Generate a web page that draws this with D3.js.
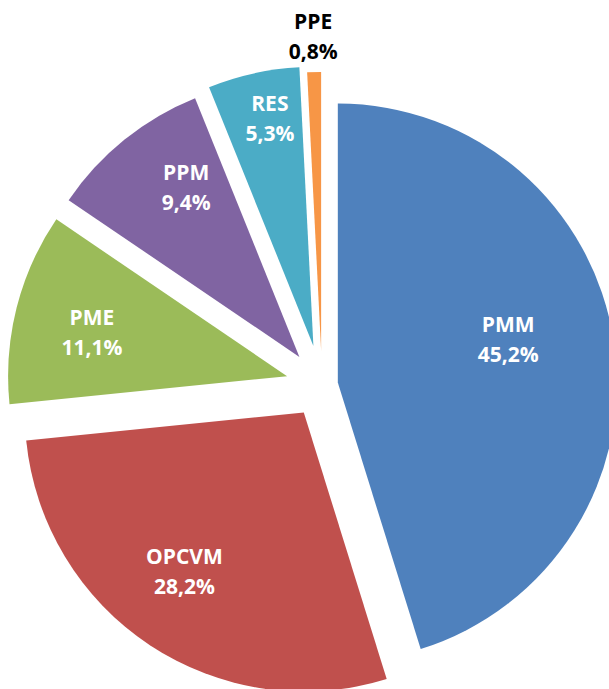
<!DOCTYPE html>
<html>
<head>
<meta charset="utf-8">
<script src="https://cdn.jsdelivr.net/npm/d3@7"></script>
<style>
  html, body { margin: 0; padding: 0; background: #fff; overflow: hidden; }
  svg { display: block; }
</style>
</head>
<body>
<svg id="chart" width="609" height="689"></svg>
<script>
// ---- data ----
const categories = ["PMM", "OPCVM", "PME", "PPM", "RES", "PPE"];
const values = [45.2, 28.2, 11.1, 9.4, 5.3, 0.8];
const colors = ["#4F81BD", "#C0504D", "#9BBB59", "#8064A2", "#4BACC6", "#F79646"];
const labelColors = ["#ffffff", "#ffffff", "#ffffff", "#ffffff", "#ffffff", "#000000"];

// ---- layout / style ----
const width = 609, height = 689;
const cx = 322, cy = 385, R = 279;
const explode = [16, 33, 36, 36, 40, 34];               // per-slice explosion (px)
const labelAngleShift = [-6.4, 3.9, -0.9, 5.5, 1.7, 0];  // degrees from mid-angle
const labelRadiusFrac = [0.632, 0.705, 0.719, 0.738, 0.839, 1.137];
const fontSize = 21, lineGap = 30;

const svg = d3.select("#chart");
const pie = d3.pie().sort(null).value(d => d).startAngle(0).endAngle(2 * Math.PI);
const arcs = pie(values);
const arc = d3.arc().innerRadius(0).outerRadius(R);
const fmt = v => d3.format(".1f")(v).replace(".", ",") + "%";

const g = svg.append("g").attr("transform", `translate(${cx},${cy})`);

const slices = g.selectAll("g.slice").data(arcs).join("g")
  .attr("class", "slice")
  .attr("transform", (d, i) => {
    const mid = (d.startAngle + d.endAngle) / 2;
    return `translate(${explode[i] * Math.sin(mid)},${-explode[i] * Math.cos(mid)})`;
  });

slices.append("path")
  .attr("d", arc)
  .attr("fill", (d, i) => colors[i]);

slices.each(function(d, i) {
  const mid = (d.startAngle + d.endAngle) / 2 + labelAngleShift[i] * Math.PI / 180;
  const r = labelRadiusFrac[i] * R;
  const x = r * Math.sin(mid), y = -r * Math.cos(mid);
  const sel = d3.select(this);
  [categories[i], fmt(values[i])].forEach((txt, k) => {
    sel.append("text")
      .attr("x", x)
      .attr("y", y - 5 + k * lineGap)
      .attr("text-anchor", "middle")
      .attr("font-family", "'Open Sans', 'DejaVu Sans', sans-serif")
      .attr("font-weight", "bold")
      .attr("font-size", fontSize + "px")
      .attr("fill", labelColors[i])
      .text(txt);
  });
});
</script>
</body>
</html>
